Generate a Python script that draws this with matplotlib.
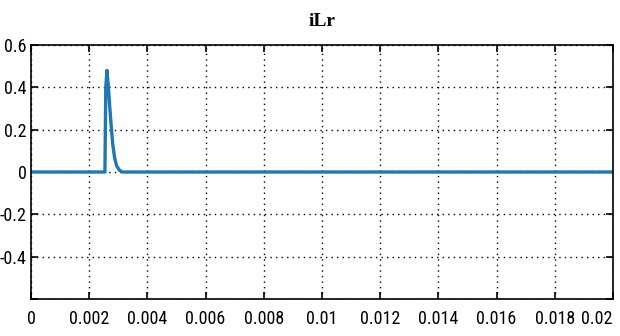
#!/usr/bin/env python3

import numpy
import matplotlib
matplotlib.use("Agg")
import matplotlib.pyplot as plt
from matplotlib import font_manager

## DATA

t = [0, 0.00254, 0.00257, 0.00261, 0.00266, 0.00271, 0.00276, 0.00281, 0.00287, 0.00294, 0.00303, 0.00313, 0.02]
ilr = [0, 0, 0.40, 0.48, 0.40, 0.30, 0.21, 0.13, 0.07, 0.03, 0.01, 0, 0]

xticks = [0, 0.002, 0.004, 0.006, 0.008, 0.01, 0.012, 0.014, 0.016, 0.018, 0.02]
xlabels = ["0", "0.002", "0.004", "0.006", "0.008", "0.01", "0.012", "0.014", "0.016", "0.018", "0.02"]
yticks = [-0.6, -0.4, -0.2, 0, 0.2, 0.4, 0.6]
ylabels = ["", "-0.4", "-0.2", "0", "0.2", "0.4", "0.6"]

## PLOT

names = {f.name for f in font_manager.fontManager.ttflist}
narrow = [n for n in ["Liberation Sans Narrow", "DejaVu Sans Condensed", "Roboto Condensed"] if n in names]
plt.rcParams["font.family"] = narrow + ["DejaVu Sans"]
plt.rcParams["font.stretch"] = "condensed"

fig = plt.figure(figsize = (6.2, 3.36), dpi = 100)
ax = fig.add_axes([31 / 620, 1 - 299 / 336, 582 / 620, 254 / 336])

ax.plot(t, ilr, "-", lw = 2.4, color = "#1f77b4")

ax.set_xlim(0, 0.02)
ax.set_ylim(-0.6, 0.6)
ax.set_xticks(xticks)
ax.set_xticklabels(xlabels)
ax.set_yticks(yticks)
ax.set_yticklabels(ylabels)
ax.tick_params(direction = "in", length = 5, width = 1.2, top = True, right = True,
	labelsize = 13, pad = 3)
ax.tick_params(axis = "x", pad = 8)
ax.get_xticklabels()[-1].set_horizontalalignment("right")
ax.grid(True, linestyle = (0, (1, 3)), color = "black", lw = 1)
for s in ax.spines.values():
	s.set_linewidth(1.2)

ax.set_title("iLr", fontsize = 14, fontweight = "bold", family = ["Liberation Serif", "DejaVu Serif"], pad = 14)

fig.savefig("out.png", dpi = 100)
